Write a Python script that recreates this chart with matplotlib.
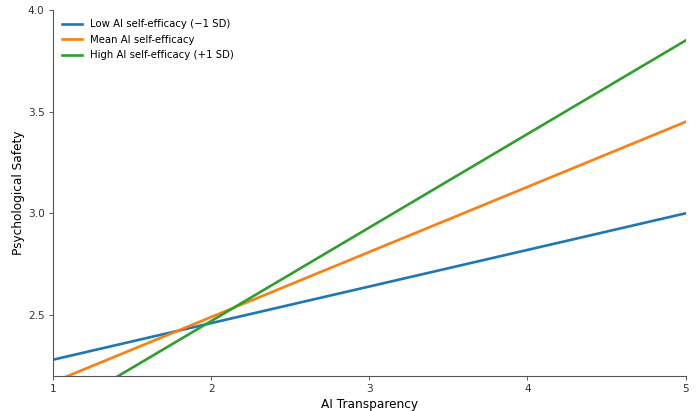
import matplotlib
matplotlib.use("Agg")
import matplotlib.pyplot as plt
import numpy as np

x_vals = [1, 5]
low_vals = [2.28, 3.00]
mean_vals = [2.17, 3.45]
high_vals = [2.01, 3.85]
labels = ["Low AI self-efficacy (\u22121 SD)", "Mean AI self-efficacy", "High AI self-efficacy (+1 SD)"]
colors = ["#1f77b4", "#ff7f0e", "#2ca02c"]
xticks = [1, 2, 3, 4, 5]
yticks = [2.5, 3.0, 3.5, 4.0]

fig = plt.figure(figsize=(6.99, 4.11), dpi=100)
ax = fig.add_axes([0.0758, 0.0852, 0.905, 0.8905])

for vals, lab, c in zip([low_vals, mean_vals, high_vals], labels, colors):
    ax.plot(x_vals, vals, color=c, lw=1.9, label=lab)

ax.set_xlim(1, 5)
ax.set_ylim(2.2, 4.0)
ax.set_xticks(xticks)
ax.set_yticks(yticks)
ax.set_xlabel("AI Transparency", fontsize=8.7, labelpad=3)
ax.set_ylabel("Psychological Safety", fontsize=8.7, labelpad=2)
for s in ["top", "right"]:
    ax.spines[s].set_visible(False)
for s in ["left", "bottom"]:
    ax.spines[s].set_color("#555555")
    ax.spines[s].set_linewidth(0.8)
ax.tick_params(colors="#555555", labelcolor="#333333", labelsize=7.6, length=3, width=0.7, pad=3)
ax.legend(loc="upper left", frameon=False, fontsize=7.3, handlelength=2, borderaxespad=0.5, labelspacing=0.55)

fig.savefig("out.png", dpi=100)
